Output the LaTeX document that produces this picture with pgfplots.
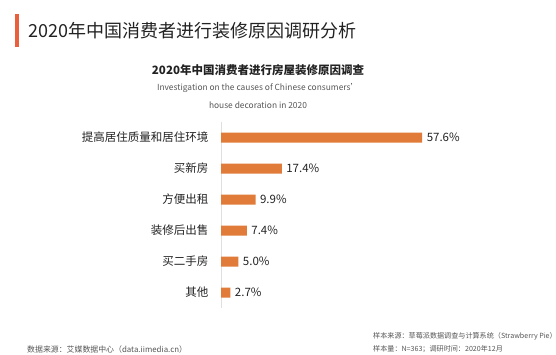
\documentclass[border=0pt]{standalone}
\usepackage{fontspec}
\setmainfont{Noto Sans CJK SC}
\usepackage{pgfplots}
\pgfplotsset{compat=1.18}
\definecolor{barc}{HTML}{E07B39}
\definecolor{accent}{HTML}{E8603C}
\definecolor{txt}{HTML}{222222}
\definecolor{gtxt}{HTML}{555555}
\begin{document}
\begin{tikzpicture}
\path[use as bounding box] (0,0) rectangle (556bp,-355bp);
\fill[accent] (15bp,-14bp) rectangle (19bp,-47bp);
\node[anchor=west, text=txt, font=\fontsize{18bp}{20bp}\selectfont, inner sep=0] at (28bp,-31bp) {2020年中国消费者进行装修原因调研分析};
\node[text=txt, font=\bfseries\fontsize{11.5bp}{13bp}\selectfont, inner sep=0] at (258bp,-70bp) {2020年中国消费者进行房屋装修原因调查};
\node[text=gtxt, font=\fontsize{8.4bp}{10bp}\selectfont, inner sep=0] at (258bp,-88bp) {Investigation on the causes of Chinese consumers'};
\node[text=gtxt, font=\fontsize{8.4bp}{10bp}\selectfont, inner sep=0] at (258bp,-105bp) {house decoration in 2020};
\node[anchor=west, text=gtxt, font=\fontsize{7.9bp}{9bp}\selectfont, inner sep=0] at (27bp,-349bp) {数据来源：艾媒数据中心（data.iimedia.cn）};
\node[anchor=west, text=gtxt, font=\fontsize{7.1bp}{9bp}\selectfont, inner sep=0] at (373bp,-336bp) {样本来源：草莓派数据调查与计算系统（Strawberry Pie）};
\node[anchor=west, text=gtxt, font=\fontsize{7.1bp}{9bp}\selectfont, inner sep=0] at (373bp,-349bp) {样本量：N=363；调研时间：2020年12月};
\begin{axis}[
  at={(221bp,-308bp)}, anchor=south west,
  scale only axis, width=276bp, height=186bp,
  xbar, bar width=10bp,
  xmin=0, xmax=79,
  ymin=-0.5, ymax=5.5, y dir=reverse,
  hide x axis,
  axis y line=left,
  y axis line style={draw=gray!25, line width=1pt, -},
  ytick={0,1,2,3,4,5},
  yticklabels={提高居住质量和居住环境,买新房,方便出租,装修后出售,买二手房,其他},
  ytick style={draw=none},
  yticklabel style={text=txt, font=\fontsize{11.5bp}{13bp}\selectfont, xshift=-7bp},
  /pgf/number format/assume math mode=true,
  nodes near coords={\pgfmathprintnumber[fixed,fixed zerofill,precision=1,assume math mode=true]{\pgfplotspointmeta}\%},
  nodes near coords style={text=txt, font=\fontsize{11.5bp}{13bp}\selectfont, xshift=1bp},
  point meta=x,
]
\addplot[fill=barc, draw=none] coordinates {(57.6,0) (17.4,1) (9.9,2) (7.4,3) (5.0,4) (2.7,5)};
\end{axis}
\end{tikzpicture}
\end{document}
